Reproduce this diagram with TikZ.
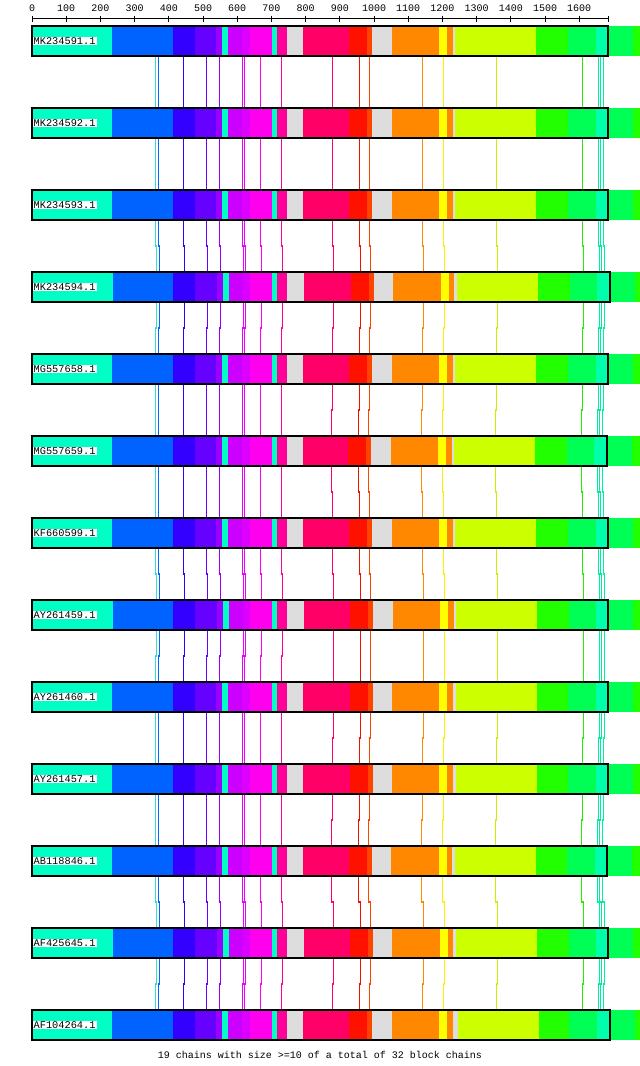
\documentclass[tikz,border=0pt]{standalone}
\usepackage{fontspec}
\setmonofont{Liberation Mono}
\definecolor{g1}{HTML}{00FFC4}
\definecolor{g2}{HTML}{0062FF}
\definecolor{g3}{HTML}{3300FF}
\definecolor{g4}{HTML}{6600FF}
\definecolor{g5}{HTML}{9900FF}
\definecolor{g6}{HTML}{00FFC4}
\definecolor{g7}{HTML}{CC00FF}
\definecolor{g8}{HTML}{DD00FF}
\definecolor{g9}{HTML}{FF00EE}
\definecolor{g10}{HTML}{00FFC4}
\definecolor{g11}{HTML}{FF0099}
\definecolor{g12}{HTML}{DDDDDD}
\definecolor{g13}{HTML}{FF0066}
\definecolor{g14}{HTML}{FF1100}
\definecolor{g15}{HTML}{FF4400}
\definecolor{g16}{HTML}{DDDDDD}
\definecolor{g17}{HTML}{FF8800}
\definecolor{g18}{HTML}{FFFF00}
\definecolor{g19}{HTML}{FF8800}
\definecolor{g20}{HTML}{DDDDDD}
\definecolor{g21}{HTML}{CCFF00}
\definecolor{g22}{HTML}{22FF00}
\definecolor{g23}{HTML}{00FF55}
\definecolor{g24}{HTML}{00FFAA}
\definecolor{ext1}{HTML}{00FF55}
\definecolor{ext2}{HTML}{22FF00}
\definecolor{l1}{HTML}{33E0CC}
\definecolor{l2}{HTML}{0066FF}
\definecolor{l3}{HTML}{3300FF}
\definecolor{l4}{HTML}{6600FF}
\definecolor{l5}{HTML}{9900FF}
\definecolor{l6}{HTML}{EE00FF}
\definecolor{l7}{HTML}{EE00FF}
\definecolor{l8}{HTML}{FF00EE}
\definecolor{l9}{HTML}{FF0099}
\definecolor{l10}{HTML}{FF0066}
\definecolor{l11}{HTML}{EE1100}
\definecolor{l12}{HTML}{FF4400}
\definecolor{l13}{HTML}{FF8800}
\definecolor{l14}{HTML}{FFEE00}
\definecolor{l15}{HTML}{CCEE00}
\definecolor{l16}{HTML}{22EE00}
\definecolor{l17}{HTML}{00EE99}
\definecolor{l18}{HTML}{00EE99}
\definecolor{l19}{HTML}{00EEAA}
\tikzset{
  lbl/.style={fill=white, inner xsep=1pt, inner ysep=0.6pt, anchor=west,
    text height=6.6pt, text depth=0.4pt, font=\ttfamily\fontsize{10.3}{10}\selectfont},
  axlbl/.style={inner sep=0pt, font=\ttfamily\fontsize{10}{10}\selectfont},
  frame/.style={draw=black, line width=1.2pt},
  anchorline/.style={line width=1.3pt}
}
% #1 name, #2 y top, #3 label, #4 end x, #5 block starts
\newcommand\genomerow[5]{%
  \foreach \x [count=\i] in {#5} { \fill[g\i] (\x,#2) rectangle (#4,#2+30); }
  \fill[ext1] (#4,#2) rectangle (#4+25,#2+30);
  \fill[ext2] (#4+25,#2) rectangle (640,#2+30);
  \draw[frame] (32,#2) rectangle (#4,#2+30);
  \node[lbl] (#1) at (32.5,#2+15) {#3};
}
% #1 y (bottom of upper bar), #2 L upper, #3 R upper, #4 L lower, #5 R lower
\newcommand\gaplines[5]{%
  \foreach \x [count=\j] in {155.5,158.5,183.5,206.5,219.5,242.5,244.5,260.5,281.5,332.5,359.5,369.5,422.5,443.5,496.5,582.5,598.5,600.5,603.5} {
    \ifnum\j<10 \def\sa{#2}\def\sb{#4}\else\def\sa{#3}\def\sb{#5}\fi
    \draw[anchorline, l\j] (\x+\sa,#1) -- (\x+\sa,#1+26) -- (\x+\sb,#1+26) -- (\x+\sb,#1+52);
  }%
}
\begin{document}
\begin{tikzpicture}[x=1pt,y=-1pt]
\useasboundingbox (0,0) rectangle (640,1066);
% axis
\draw[line width=1pt] (32,18.5) -- (608,18.5);
\foreach \k in {0,...,16} {
  \draw[line width=1pt] (32+34.2*\k,15.5) -- (32+34.2*\k,21.5);
  \pgfmathtruncatemacro\v{100*\k}
  \node[axlbl] (ax\k) at (32+34.2*\k,8.5) {\v};
}
\draw[line width=1pt] (608,15.5) -- (608,21.5);
% connecting lines
\gaplines{56}{0}{0}{0}{0}
\gaplines{138}{0}{0}{0}{0}
\gaplines{220}{0}{0}{1}{1}
\gaplines{302}{1}{1}{0}{0}
\gaplines{384}{0}{0}{0}{-1}
\gaplines{466}{0}{-1}{0}{0}
\gaplines{548}{0}{0}{1}{1}
\gaplines{630}{1}{1}{0}{1}
\gaplines{712}{0}{1}{0}{0}
\gaplines{794}{0}{0}{0}{-1}
\gaplines{876}{0}{-1}{1}{1}
\gaplines{958}{1}{1}{0}{0}
% rows
\genomerow{r1}{26}{MK234591.1}{608}{32,112,173,195,216,222,228,242,250,272,277,287,303,349,367,372,392,439,447,453,455,536,568,596}
\genomerow{r2}{108}{MK234592.1}{608}{32,112,173,195,216,222,228,242,250,272,277,287,303,349,367,372,392,439,447,453,455,536,568,596}
\genomerow{r3}{190}{MK234593.1}{608}{32,112,173,195,216,222,228,242,250,272,277,287,303,349,367,372,392,439,447,453,455,536,568,596}
\genomerow{r4}{272}{MK234594.1}{610}{32,113,173,195,217,223,229,243,250,272,277,287,304,351,369,374,393,441,449,454,457,538,570,597}
\genomerow{r5}{354}{MG557658.1}{608}{32,112,173,195,216,222,228,242,250,272,277,287,303,349,367,372,392,439,447,453,455,536,568,596}
\genomerow{r6}{436}{MG557659.1}{607}{32,112,173,195,216,222,228,242,250,272,277,287,303,348,366,371,391,438,446,452,454,535,567,594}
\genomerow{r7}{518}{KF660599.1}{608}{32,112,173,195,216,222,228,242,250,272,277,287,303,349,367,372,392,439,447,453,455,536,568,596}
\genomerow{r8}{600}{AY261459.1}{608}{32,113,173,195,217,223,229,243,250,272,277,287,304,350,368,373,393,440,448,454,456,537,569,596}
\genomerow{r9}{682}{AY261460.1}{608}{32,112,173,195,216,222,228,242,250,272,277,287,303,350,368,373,392,439,447,453,456,537,568,596}
\genomerow{r10}{764}{AY261457.1}{608}{32,112,173,195,216,222,228,242,250,272,277,287,303,350,368,373,392,439,447,453,456,537,568,596}
\genomerow{r11}{846}{AB118846.1}{607}{32,112,173,195,216,222,228,242,250,272,277,287,303,349,367,372,391,439,447,452,455,536,567,595}
\genomerow{r12}{928}{AF425645.1}{608}{32,113,173,195,217,223,229,243,250,272,277,287,304,350,368,373,392,440,448,453,456,537,569,596}
\genomerow{r13}{1010}{AF104264.1}{610}{32,112,173,195,216,222,228,242,250,272,277,287,303,349,367,372,392,439,447,453,458,539,569,597}
% footer
\node[axlbl] (foot) at (320,1055) {19 chains with size >=10 of a total of 32 block chains};
\end{tikzpicture}
\end{document}
